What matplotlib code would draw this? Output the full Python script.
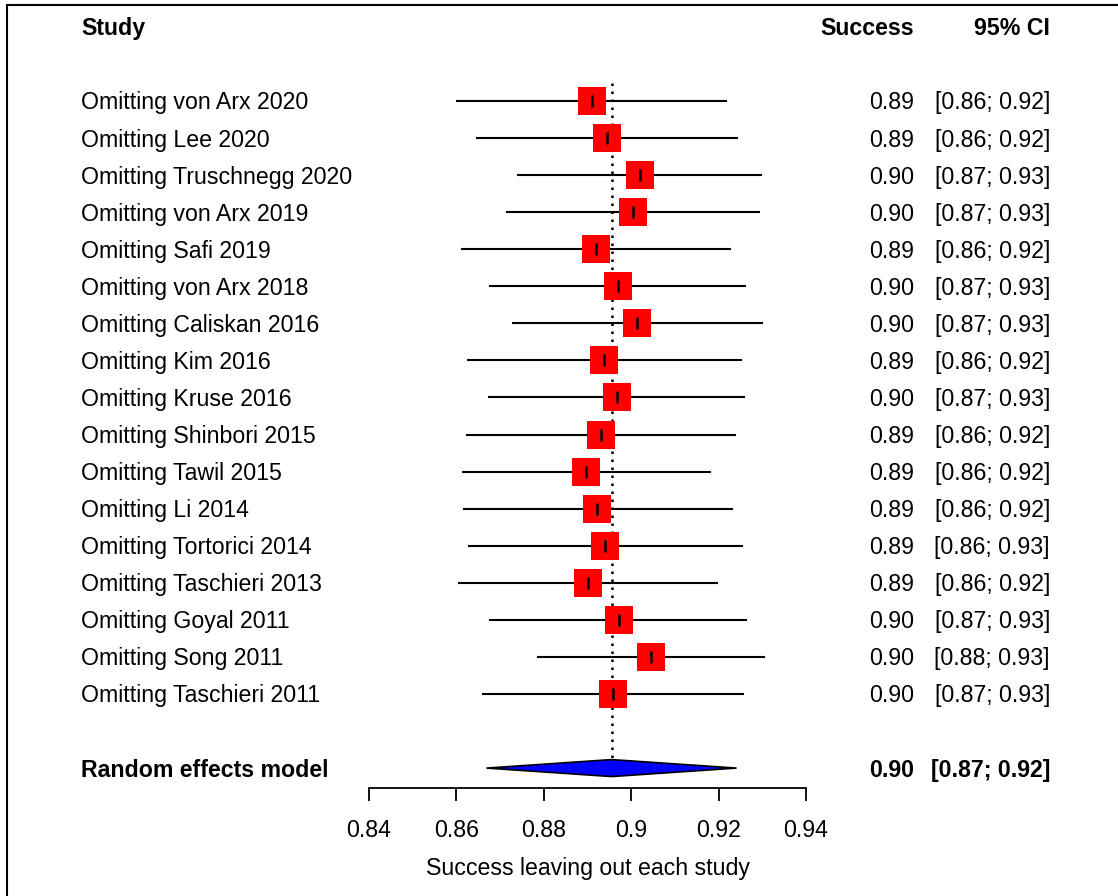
import matplotlib
matplotlib.use("Agg")
import matplotlib.pyplot as plt
import matplotlib.transforms as mtransforms
from matplotlib.patches import Polygon
from matplotlib.lines import Line2D

plt.rcParams['font.family'] = ['Liberation Sans', 'DejaVu Sans']

# ---------------- data ----------------
studies = ["Omitting von Arx 2020", "Omitting Lee 2020", "Omitting Truschnegg 2020",
           "Omitting von Arx 2019", "Omitting Safi 2019", "Omitting von Arx 2018",
           "Omitting Caliskan 2016", "Omitting Kim 2016", "Omitting Kruse 2016",
           "Omitting Shinbori 2015", "Omitting Tawil 2015", "Omitting Li 2014",
           "Omitting Tortorici 2014", "Omitting Taschieri 2013", "Omitting Goyal 2011",
           "Omitting Song 2011", "Omitting Taschieri 2011"]
est = [0.8911, 0.8944, 0.9019, 0.9003, 0.8919, 0.8969, 0.9014, 0.8938, 0.8967,
       0.8930, 0.8897, 0.8922, 0.8940, 0.8901, 0.8971, 0.9045, 0.8958]
lower = [0.8602, 0.8646, 0.8742, 0.8715, 0.8612, 0.8678, 0.8729, 0.8627, 0.8675,
         0.8624, 0.8614, 0.8617, 0.8628, 0.8607, 0.8678, 0.8787, 0.8662]
upper = [0.9217, 0.9241, 0.9297, 0.9293, 0.9226, 0.9260, 0.9299, 0.9251, 0.9259,
         0.9238, 0.9180, 0.9230, 0.9254, 0.9196, 0.9262, 0.9304, 0.9255]
success_txt = ["0.89", "0.89", "0.90", "0.90", "0.89", "0.90", "0.90", "0.89", "0.90",
               "0.89", "0.89", "0.89", "0.89", "0.89", "0.90", "0.90", "0.90"]
ci_txt = ["[0.86; 0.92]", "[0.86; 0.92]", "[0.87; 0.93]", "[0.87; 0.93]", "[0.86; 0.92]",
          "[0.87; 0.93]", "[0.87; 0.93]", "[0.86; 0.92]", "[0.87; 0.93]", "[0.86; 0.92]",
          "[0.86; 0.92]", "[0.86; 0.92]", "[0.86; 0.93]", "[0.86; 0.92]", "[0.87; 0.93]",
          "[0.88; 0.93]", "[0.87; 0.93]"]
pooled_label = "Random effects model"
pooled_est, pooled_lo, pooled_hi = 0.8955, 0.8669, 0.9241
pooled_success_txt = "0.90"
pooled_ci_txt = "[0.87; 0.92]"
xticks = [0.84, 0.86, 0.88, 0.90, 0.92, 0.94]
xticklabels = ["0.84", "0.86", "0.88", "0.9", "0.92", "0.94"]
xlabel = "Success leaving out each study"

# ---------------- layout ----------------
W, H = 1118, 896
fig = plt.figure(figsize=(W / 100, H / 100), dpi=100)
row_px = 37.06
first_px = 101
ax = fig.add_axes([369 / W, 0, (806 - 369) / W, 1])
ax.set_xlim(0.84, 0.94)
p_top = 1 - first_px / row_px
p_bot = 1 + (H - first_px) / row_px
ax.set_ylim(p_bot, p_top)

FS = 16.7
rows = list(range(1, len(studies) + 1))
pooled_row = 19
header_row = -1
toff = 2 / row_px  # small downward text offset

# dotted reference line
dh = 8.5 / row_px
ax.plot([pooled_est, pooled_est], [1 + (83 - first_px) / row_px, pooled_row - dh],
        color='black', lw=1.8, linestyle=(0, (1, 2.2)), zorder=1)

for r, e, lo, hi in zip(rows, est, lower, upper):
    ax.plot([lo, hi], [r, r], color='black', lw=1.5, zorder=2)
    ax.plot([e], [r], marker='s', ms=20.3, color='red', mec='red', mew=0, zorder=3)
    ax.plot([e], [r], marker='|', ms=8.5, color='black', mew=1.8, zorder=4)

diamond = Polygon([[pooled_lo, pooled_row], [pooled_est, pooled_row - dh],
                   [pooled_hi, pooled_row], [pooled_est, pooled_row + dh]],
                  closed=True, facecolor='blue', edgecolor='black', lw=1.2, zorder=3)
ax.add_patch(diamond)

# axis
for s in ['top', 'left', 'right']:
    ax.spines[s].set_visible(False)
axis_row = 1 + (788 - first_px) / row_px
ax.spines['bottom'].set_position(('data', axis_row))
ax.spines['bottom'].set_bounds(0.84, 0.94)
ax.spines['bottom'].set_linewidth(1.3)
ax.set_yticks([])
ax.set_xticks(xticks)
ax.set_xticklabels(xticklabels)
ax.tick_params(axis='x', direction='out', length=9.5, width=1.3, pad=13, labelsize=FS)
ax.patch.set_alpha(0)
ax.text(0.89, 1 + (866 - first_px) / row_px + toff, xlabel, ha='center', va='center', fontsize=FS)

# text columns
tr = mtransforms.blended_transform_factory(fig.transFigure, ax.transData)
x_name = 81 / W
x_succ = 914 / W
x_ci = 1050 / W
hy = header_row + toff
ax.text(x_name, hy, "Study", transform=tr, ha='left', va='center', fontsize=FS, fontweight='bold')
ax.text(x_succ, hy, "Success", transform=tr, ha='right', va='center', fontsize=FS, fontweight='bold')
ax.text(x_ci, hy, "95% CI", transform=tr, ha='right', va='center', fontsize=FS, fontweight='bold')
for r, name, st, ct in zip(rows, studies, success_txt, ci_txt):
    ax.text(x_name, r + toff, name, transform=tr, ha='left', va='center', fontsize=FS)
    ax.text(x_succ, r + toff, st, transform=tr, ha='right', va='center', fontsize=FS)
    ax.text(x_ci, r + toff, ct, transform=tr, ha='right', va='center', fontsize=FS)
py = pooled_row + toff
ax.text(x_name, py, pooled_label, transform=tr, ha='left', va='center', fontsize=FS, fontweight='bold')
ax.text(x_succ, py, pooled_success_txt, transform=tr, ha='right', va='center', fontsize=FS, fontweight='bold')
ax.text(x_ci, py, pooled_ci_txt, transform=tr, ha='right', va='center', fontsize=FS, fontweight='bold')

# frame lines (left and top)
fig.add_artist(Line2D([6.5 / W, 6.5 / W], [0, 1 - 5 / H], transform=fig.transFigure, color='black', lw=1.5))
fig.add_artist(Line2D([6.5 / W, 1], [1 - 5 / H, 1 - 5 / H], transform=fig.transFigure, color='black', lw=1.5))

fig.savefig("out.png", dpi=100)
